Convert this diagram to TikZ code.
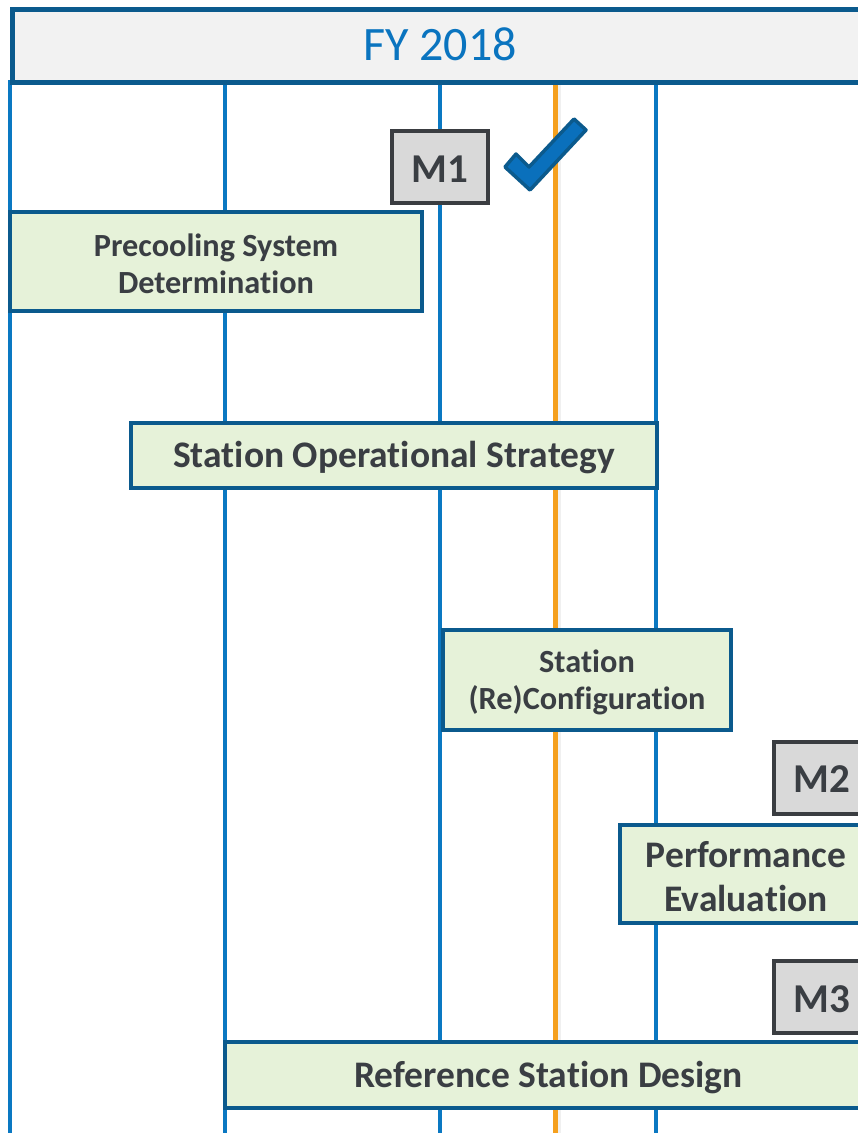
\documentclass[tikz,border=0pt]{standalone}
\usepackage{fontspec}
\setmainfont[Ligatures=NoCommon]{Carlito}
\definecolor{gridblue}{HTML}{0A78C2}
\definecolor{boxborder}{HTML}{0B5A8D}
\definecolor{boxfill}{HTML}{E6F2D9}
\definecolor{txtdark}{HTML}{3A3E43}
\definecolor{msfill}{HTML}{D9D9D9}
\definecolor{msborder}{HTML}{3A3D41}
\definecolor{hdrfill}{HTML}{F2F2F2}
\definecolor{hdrtext}{HTML}{0A74BF}
\definecolor{nowline}{HTML}{F5A01E}
\definecolor{checkfill}{HTML}{0A70BC}
\begin{document}
\begin{tikzpicture}[x=1pt,y=-1pt,
  taskbox/.style={draw=boxborder, fill=boxfill, line width=4pt, inner sep=0pt},
  smalltext/.style={align=center, text=txtdark, inner sep=0pt, yshift=-2.5pt,
    font=\bfseries\fontsize{32.3}{37.5}\selectfont},
  bigtext/.style={align=center, text=txtdark, inner sep=0pt, yshift=-2.5pt,
    font=\bfseries\fontsize{37.5}{43.5}\selectfont},
  milestone/.style={draw=msborder, fill=msfill, line width=4pt, inner sep=0pt,
    minimum width=96pt, minimum height=72pt},
  mstext/.style={text=txtdark, inner sep=0pt, yshift=-2pt,
    font=\bfseries\fontsize{41}{44}\selectfont},
  gridline/.style={draw=gridblue, line width=4pt}]
\useasboundingbox (0,0) rectangle (858,1133);
\clip (0,0) rectangle (858,1133);
\fill[white] (0,0) rectangle (858,1133);
% grid lines
\foreach \gx in {10,225,440,656} {
  \draw[gridline] (\gx,80) -- (\gx,1133);
}
% now line with faint shadow
\draw[black!6, line width=3pt] (559,80) -- (559,1133);
\draw[nowline, line width=4.5pt] (555.5,80) -- (555.5,1133);
% header
\node[draw=boxborder, fill=hdrfill, line width=5pt, minimum width=870pt,
  minimum height=73pt, inner sep=0pt, anchor=north west] (hdr) at (10,6.5) {};
\node[text=hdrtext, font=\fontsize{48}{52}\selectfont] (hdrlabel) at (440,44) {FY 2018};
% milestones
\node[milestone, label={[mstext]center:M1}] (m1) at (440,167) {};
\node[milestone, label={[mstext]center:M2}] (m2) at (822,777.5) {};
\node[milestone, label={[mstext]center:M3}] (m3) at (822,997) {};
% check mark
\draw[draw=boxborder, fill=checkfill, line width=3.5pt, line join=round]
  (505,167) -- (516,154) -- (529,167) -- (574,119) -- (586,130) -- (530,190) -- cycle;
% tasks
\node[taskbox, minimum width=412pt, minimum height=99pt,
  label={[smalltext]center:{Precooling System\\Determination}}] (precool) at (216,261.5) {};
\node[taskbox, minimum width=526pt, minimum height=65pt,
  label={[bigtext]center:{Station Operational Strategy}}] (strategy) at (394,455.5) {};
\node[taskbox, minimum width=288pt, minimum height=100pt,
  label={[smalltext]center:{Station\\(Re)Configuration}}] (config) at (587,680) {};
\node[taskbox, minimum width=252pt, minimum height=98pt,
  label={[bigtext]center:{Performance\\Evaluation}}] (perf) at (746,874) {};
\node[taskbox, minimum width=647pt, minimum height=66pt,
  label={[bigtext]center:{Reference Station Design}}] (refdesign) at (548.5,1075) {};
\end{tikzpicture}
\end{document}
